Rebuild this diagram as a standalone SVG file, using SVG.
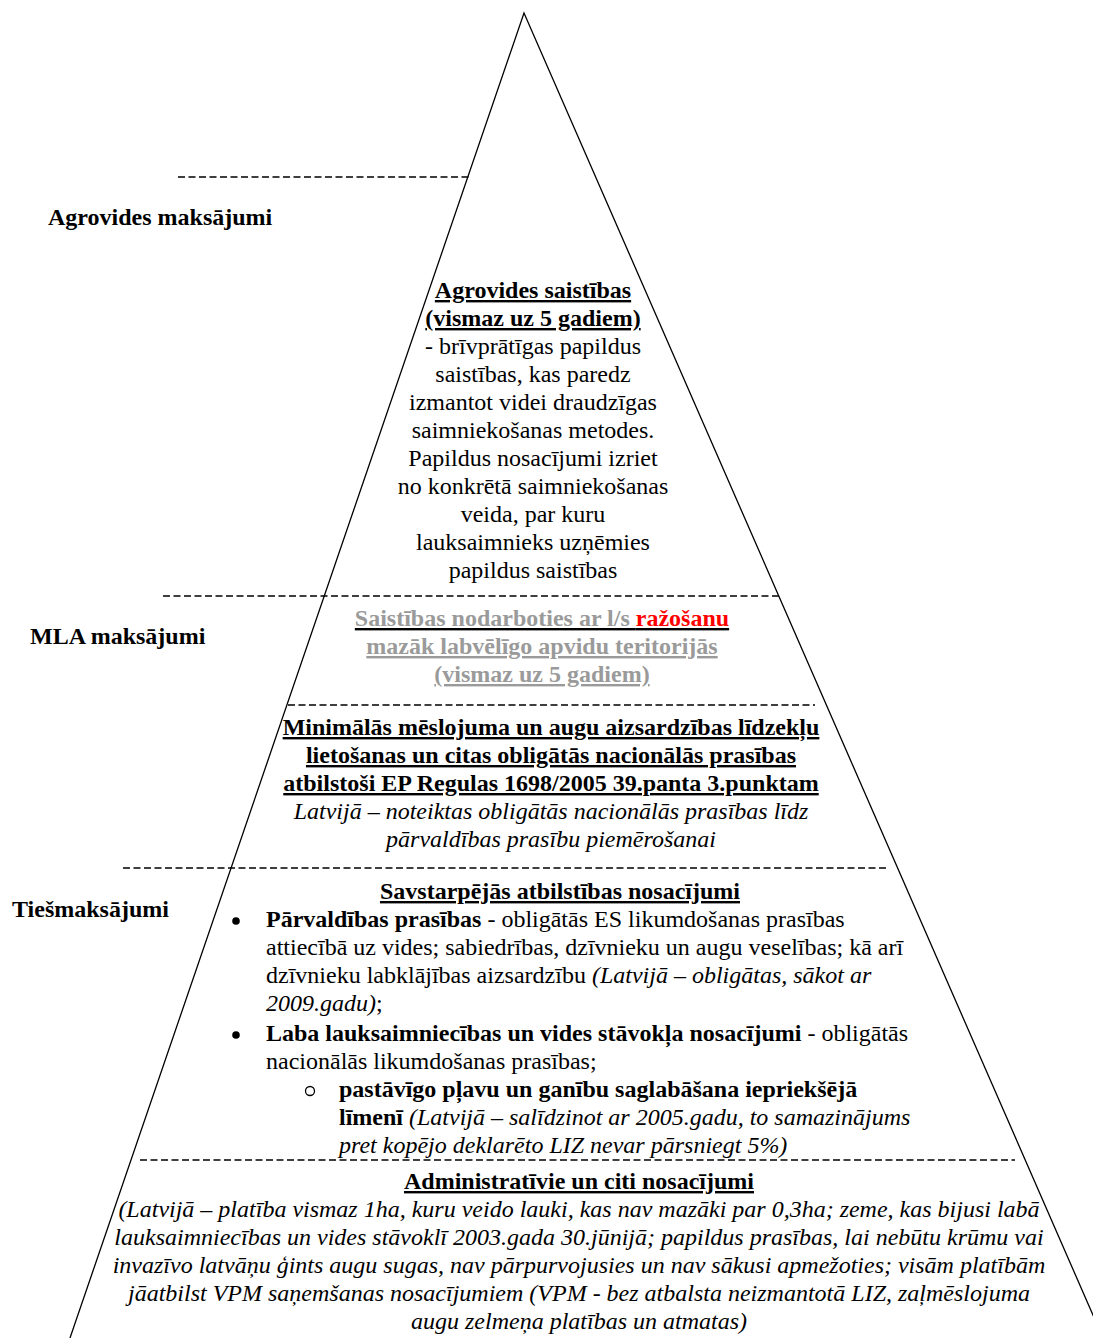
<svg xmlns="http://www.w3.org/2000/svg" width="1093" height="1338" viewBox="0 0 1093 1338">
<style>
text{font-family:"Liberation Serif","Times New Roman",serif;font-size:24px;fill:#000}
.b{font-weight:bold}
.i{font-style:italic}
.u{text-decoration:underline}
.c{text-anchor:middle}
.g{fill:#9a9a9a}
.r{fill:#ff0000}
.dash{stroke:#000;stroke-width:1.4;stroke-dasharray:7 3.5;fill:none}
.edge{stroke:#000;stroke-width:1.3;fill:none}
</style>
<rect width="1093" height="1338" fill="#fff"/>
<g id="connectors">
<polyline class="edge" points="70,1338 524,13 1103,1338"/>
<line class="dash" x1="178" y1="177" x2="469" y2="177"/>
<line class="dash" x1="163" y1="596" x2="779" y2="596"/>
<line class="dash" x1="288" y1="705" x2="815" y2="705"/>
<line class="dash" x1="123" y1="868" x2="888" y2="868"/>
<line class="dash" x1="140" y1="1160" x2="1015" y2="1160"/>
</g>
<g id="label-agrovides">
<text class="b" x="48" y="225">Agrovides maksājumi</text>
</g>
<g id="label-mla">
<text class="b" x="30" y="644">MLA maksājumi</text>
</g>
<g id="label-tiesmaksajumi">
<text class="b" x="12" y="917">Tiešmaksājumi</text>
</g>
<g id="node-agrovides-saistibas">
<text class="c" x="533" y="298"><tspan class="b u">Agrovides saistības</tspan></text>
<text class="c" x="533" y="326"><tspan class="b u">(vismaz uz 5 gadiem)</tspan></text>
<text class="c" x="533" y="354">- brīvprātīgas papildus</text>
<text class="c" x="533" y="382">saistības, kas paredz</text>
<text class="c" x="533" y="410">izmantot videi draudzīgas</text>
<text class="c" x="533" y="438">saimniekošanas metodes.</text>
<text class="c" x="533" y="466">Papildus nosacījumi izriet</text>
<text class="c" x="533" y="494">no konkrētā saimniekošanas</text>
<text class="c" x="533" y="522">veida, par kuru</text>
<text class="c" x="533" y="550">lauksaimnieks uzņēmies</text>
<text class="c" x="533" y="578">papildus saistības</text>
</g>
<g id="node-mla">
<text class="c b u" x="542" y="626"><tspan class="g">Saistības nodarboties ar l/s </tspan><tspan class="r">ražošanu</tspan></text>
<text class="c b u g" x="542" y="654">mazāk labvēlīgo apvidu teritorijās</text>
<text class="c b u g" x="542" y="682">(vismaz uz 5 gadiem)</text>
</g>
<g id="node-minimalas">
<text class="c b u" x="551" y="735">Minimālās mēslojuma un augu aizsardzības līdzekļu</text>
<text class="c b u" x="551" y="763">lietošanas un citas obligātās nacionālās prasības</text>
<text class="c b u" x="551" y="791">atbilstoši EP Regulas 1698/2005 39.panta 3.punktam</text>
<text class="c i" x="551" y="819">Latvijā – noteiktas obligātās nacionālās prasības līdz</text>
<text class="c i" x="551" y="847">pārvaldības prasību piemērošanai</text>
</g>
<g id="node-savstarpejas">
<text class="c b u" x="560" y="899">Savstarpējās atbilstības nosacījumi</text>
<circle cx="236" cy="921" r="3.8" fill="#000"/>
<text x="266" y="927"><tspan class="b">Pārvaldības prasības</tspan> - obligātās ES likumdošanas prasības</text>
<text x="266" y="955">attiecībā uz vides; sabiedrības, dzīvnieku un augu veselības; kā arī</text>
<text x="266" y="983">dzīvnieku labklājības aizsardzību <tspan class="i">(Latvijā – obligātas, sākot ar</tspan></text>
<text x="266" y="1011"><tspan class="i">2009.gadu)</tspan>;</text>
<circle cx="236" cy="1035" r="3.8" fill="#000"/>
<text x="266" y="1041"><tspan class="b">Laba lauksaimniecības un vides stāvokļa nosacījumi</tspan> - obligātās</text>
<text x="266" y="1069">nacionālās likumdošanas prasības;</text>
<circle cx="310" cy="1091" r="4.5" fill="none" stroke="#000" stroke-width="1.3"/>
<text class="b" x="339" y="1097">pastāvīgo pļavu un ganību saglabāšana iepriekšējā</text>
<text x="339" y="1125"><tspan class="b">līmenī</tspan> <tspan class="i">(Latvijā – salīdzinot ar 2005.gadu, to samazinājums</tspan></text>
<text class="i" x="339" y="1153">pret kopējo deklarēto LIZ nevar pārsniegt 5%)</text>
</g>
<g id="node-administrativie">
<text class="c b u" x="579" y="1189">Administratīvie un citi nosacījumi</text>
<text class="c i" x="579" y="1217">(Latvijā – platība vismaz 1ha, kuru veido lauki, kas nav mazāki par 0,3ha; zeme, kas bijusi labā</text>
<text class="c i" x="579" y="1245">lauksaimniecības un vides stāvoklī 2003.gada 30.jūnijā; papildus prasības, lai nebūtu krūmu vai</text>
<text class="c i" x="579" y="1273">invazīvo latvāņu ģints augu sugas, nav pārpurvojusies un nav sākusi apmežoties; visām platībām</text>
<text class="c i" x="579" y="1301">jāatbilst VPM saņemšanas nosacījumiem (VPM - bez atbalsta neizmantotā LIZ, zaļmēslojuma</text>
<text class="c i" x="579" y="1329">augu zelmeņa platības un atmatas)</text>
</g>
</svg>
